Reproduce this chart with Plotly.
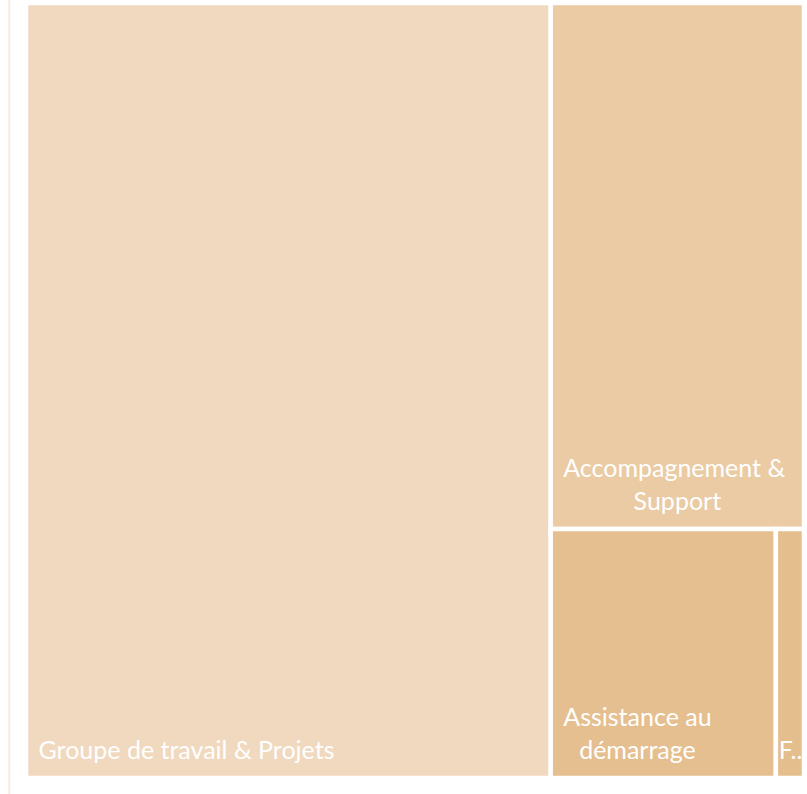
import plotly.graph_objects as go

# Activity categories and their counts
categories = ["Groupe de travail & Projets", "Accompagnement & Support",
              "Assistance au démarrage", "F..."]
values = [58, 19, 8, 1]
tile_colors = ["#F0D9BE", "#EACBA3", "#E5BF90", "#E5BE8E"]

LABEL_PX = 25     # size of the visible label glyphs
BASE_PX = 6.3     # base text size: sets the step of each <br>
NB, THIN = "&nbsp;", "&#8201;"
TAIL = "<br>" * 2 + "<span style='font-size:1px'>&nbsp;</span>"


def big(s):
    return f"<span style='font-size:{LABEL_PX}px'>{s}</span>"


def label(lines, indents):
    gap = "<br>" * 4                      # ~1.3 x label size between lines
    body = gap.join(big(NB + THIN + ind + ln) for ln, ind in zip(lines, indents))
    return body + TAIL                    # small lift off the tile bottom


display_text = [
    label(["Groupe de travail & Projets"], [""]),
    label(["Accompagnement &", "Support"], ["", NB * 11]),
    label(["Assistance au", "démarrage"], ["", NB * 2 + THIN]),
    big("F...") + TAIL,
]

W, H = 807, 794
GAP = 4.5
ml, mr, mt, mb = 25.75, 2.75, 2.75, 15.75

fig = go.Figure(go.Treemap(
    labels=categories,
    parents=[""] * len(categories),
    values=values,
    text=display_text,
    texttemplate="%{text}",
    textposition="bottom left",
    sort=True,
    marker=dict(colors=tile_colors, line=dict(color="white", width=GAP),
                pad=dict(t=0, l=0, r=0, b=0)),
    textfont=dict(family="Lato, Open Sans, sans-serif", size=BASE_PX, color="white"),
    tiling=dict(packing="squarify", pad=0),
    pathbar=dict(visible=False),
    hoverinfo="label+value",
))

# thin frame line along the left edge
x_line = (9 - ml) / (W - ml - mr)
fig.add_shape(type="line", xref="paper", yref="paper",
              x0=x_line, x1=x_line, y0=-1, y1=2,
              line=dict(color="#F8ECE0", width=2))

fig.update_layout(
    width=W, height=H,
    margin=dict(l=ml, r=mr, t=mt, b=mb),
    paper_bgcolor="white",
    uniformtext=dict(minsize=BASE_PX, mode="show"),
)

fig.write_html("out.html")
